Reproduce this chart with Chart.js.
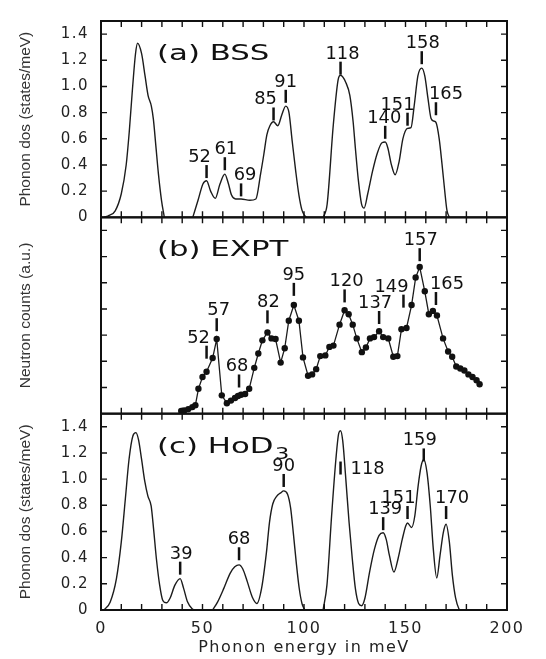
<!DOCTYPE html>
<html>
<head>
<meta charset="utf-8">
<script src="https://cdn.jsdelivr.net/npm/chart.js@4.4.1/dist/chart.umd.min.js"></script>
<style>
  html, body { margin: 0; padding: 0; background: #fff; }
  canvas { display: block; }
</style>
</head>
<body>
<canvas id="phononChart" width="546" height="659"></canvas>
<script>
// (a) BSS phonon density of states, states/meV (null = gap between bands)
const bssEnergy = [
  1.6, 4, 7, 10, 12.4, 13.9, 15.5, 17, 18, 20,
  21.7, 23.2, 24.8, 25.8, 27, 28.3, 29.8, 31.2, 38, 45.2,
  47.8, 50.2, 52, 54, 56.3, 58.6, 61, 62.7, 64.3, 66.3,
  69, 73.3, 76.3, 78.6, 80.2, 81.7, 83.2, 85, 87.1, 89,
  91, 92.6, 94.2, 95.9, 97.5, 99, 100.5, 101.2, 105, 109.5,
  111.4, 114.4, 116.8, 118, 120.6, 122.6, 124.2, 125.3, 126.8, 128.3,
  129.6, 131.4, 133.8, 136.1, 138.4, 140, 141.3, 143, 144.9, 146.9,
  148.7, 151, 152.7, 154.3, 156.1, 158, 159.5, 161.1, 162.6, 164,
  165, 166.6, 168, 169.3, 170.4, 171.6
];
const bssDos = [
  0, 0.015, 0.05, 0.18, 0.4, 0.65, 0.98, 1.25, 1.33, 1.25,
  1.08, 0.93, 0.85, 0.75, 0.55, 0.33, 0.13, 0, null, 0,
  0.13, 0.255, 0.28, 0.2, 0.145, 0.255, 0.33, 0.26, 0.17, 0.14,
  0.14, 0.13, 0.14, 0.33, 0.48, 0.63, 0.70, 0.73, 0.70, 0.78,
  0.85, 0.8, 0.58, 0.355, 0.17, 0.055, 0.01, 0, null, 0,
  0.1, 0.7, 1.05, 1.085, 1.03, 0.93, 0.73, 0.53, 0.28, 0.105,
  0.07, 0.18, 0.355, 0.49, 0.57, 0.575, 0.53, 0.405, 0.325, 0.43,
  0.6, 0.68, 0.685, 0.855, 1.08, 1.14, 1.08, 0.905, 0.755, 0.735,
  0.725, 0.6, 0.405, 0.205, 0.055, 0
];
const bssPeaks = [52, 61, 69, 85, 91, 118, 140, 151, 158, 165];

// (b) measured neutron counts, arbitrary units
const exptEnergy = [
  39.5, 41, 43, 45, 46.5, 48, 50, 52, 55, 57,
  59.5, 62, 64, 66, 67.5, 69, 71, 73, 75.5, 77.5,
  79.5, 82, 84, 86, 88.5, 90.5, 92.5, 95, 97.5, 99.5,
  102, 104, 106, 108, 110.5, 112.5, 114.5, 117.5, 120, 122,
  124, 126, 128.5, 130.5, 132.5, 134.5, 137, 139, 141.5, 144,
  146, 148, 150.5, 153, 155, 157, 159.5, 161.5, 163.5, 165.5,
  168.5, 171, 173, 175, 177, 179, 181, 183, 185, 186.5
];
const exptCounts = [
  0.02, 0.025, 0.035, 0.05, 0.065, 0.19, 0.28, 0.32, 0.425, 0.57,
  0.14, 0.08, 0.10, 0.12, 0.135, 0.145, 0.15, 0.19, 0.35, 0.46,
  0.56, 0.62, 0.575, 0.57, 0.39, 0.50, 0.71, 0.83, 0.71, 0.43,
  0.29, 0.30, 0.34, 0.44, 0.445, 0.51, 0.52, 0.68, 0.79, 0.76,
  0.68, 0.575, 0.47, 0.505, 0.575, 0.585, 0.63, 0.585, 0.575, 0.435,
  0.44, 0.645, 0.655, 0.83, 1.04, 1.12, 0.935, 0.76, 0.785, 0.75,
  0.575, 0.475, 0.435, 0.36, 0.345, 0.33, 0.30, 0.28, 0.255, 0.225
];
const exptPeaks = [52, 57, 68, 82, 95, 120, 137, 149, 157, 165];

// (c) HoD3 phonon density of states, states/meV
const hodEnergy = [
  1.4, 4.5, 7.6, 10, 12, 13.8, 15.7, 17.2, 18.5, 20,
  21.6, 23.1, 24.7, 25.9, 27.3, 28.9, 30.4, 32.2, 34, 36.4,
  39, 40.7, 42.6, 44.9, 46, 50, 55, 57.4, 60.5, 63.6,
  65.9, 68, 69.8, 72.1, 74.5, 76.8, 79.1, 81.5, 83, 84.6,
  86.6, 88.5, 90, 91.9, 93.4, 94.8, 96.2, 97.6, 99, 100.4,
  105, 109.4, 111.3, 113.6, 115.7, 117.1, 118, 119.1, 120.6, 122.2,
  123.8, 125.3, 126.9, 128.4, 130, 132.3, 134.7, 137, 139, 140.5,
  142.1, 144.3, 146.3, 148.4, 150.2, 151, 153, 154.6, 156.2, 157.7,
  159, 160.6, 162.2, 163.7, 165.4, 167, 168.6, 170, 171.6, 173.1,
  174.7, 176.3, 177
];
const hodDos = [
  0, 0.06, 0.24, 0.52, 0.85, 1.15, 1.33, 1.355, 1.3, 1.15,
  0.98, 0.87, 0.795, 0.62, 0.39, 0.19, 0.075, 0.055, 0.09, 0.19,
  0.24, 0.165, 0.063, 0.01, 0, null, 0, 0.06, 0.165, 0.28,
  0.33, 0.345, 0.315, 0.215, 0.1, 0.05, 0.165, 0.44, 0.67, 0.81,
  0.87, 0.895, 0.91, 0.885, 0.78, 0.58, 0.36, 0.17, 0.05, 0,
  null, 0, 0.19, 0.72, 1.15, 1.35, 1.37, 1.29, 1.0, 0.67,
  0.39, 0.165, 0.05, 0.033, 0.09, 0.29, 0.465, 0.57, 0.59, 0.54,
  0.415, 0.29, 0.39, 0.54, 0.645, 0.665, 0.63, 0.72, 0.945, 1.1,
  1.15, 1.05, 0.795, 0.465, 0.245, 0.415, 0.59, 0.655, 0.52, 0.265,
  0.09, 0.01, 0
];
const hodPeaks = [39, 68, 90, 118, 139, 151, 159, 170];

const energyTicks = [0, 50, 100, 150, 200];
const dosTicks = [0, 0.2, 0.4, 0.6, 0.8, 1.0, 1.2, 1.4];

const toPoints = (xs, ys) => xs.map((x, i) => ({ x: x, y: ys[i] }));

// where each peak tag sits: bottom of the tick mark (axis units) and text shift (px)
const tagLayout = {
  yA: {
    level: [0.30, 0.36, 0.16, 0.74, 0.875, 1.09, 0.60, 0.70, 1.17, 0.78],
    dx: [-7, 1, 4, -8, 0, 2, -1, -10, 1, 10]
  },
  yB: {
    level: [0.42, 0.63, 0.20, 0.69, 0.90, 0.85, 0.685, 0.81, 1.165, 0.83],
    dx: [-8, 2, -2, 1, 0, 2, -4, -12, 1, 11]
  },
  yC: {
    level: [0.27, 0.38, 0.94, 1.035, 0.61, 0.695, 1.135, 0.695],
    dx: [1, 0, 0, 'right', 2, -9, -4, 6]
  }
};

const panels = [
  { axis: 'yA', title: '(a) BSS', yTitle: 'Phonon dos (states/meV)', peaks: bssPeaks },
  { axis: 'yB', title: '(b) EXPT', yTitle: 'Neutron counts (a.u.)', peaks: exptPeaks },
  { axis: 'yC', title: '(c) HoD', sub: '3', yTitle: 'Phonon dos (states/meV)', peaks: hodPeaks }
];

// frames, inward ticks, panel names and peak tags
const panelDecor = {
  id: 'panelDecor',
  beforeDraw(chart) {
    chart.ctx.letterSpacing = '1.5px';
  },
  afterDatasetsDraw(chart) {
    const { ctx, chartArea, scales } = chart;
    const xs = scales.x;
    ctx.save();
    ctx.letterSpacing = '0px';
    ctx.strokeStyle = '#111';
    ctx.fillStyle = '#111';

    panels.forEach(p => {
      const ys = scales[p.axis];
      const top = ys.top, bottom = ys.bottom;

      ctx.lineWidth = 1.4;
      ctx.beginPath();
      for (let e = 10; e < 200; e += 10) {
        const px = xs.getPixelForValue(e);
        ctx.moveTo(px, top); ctx.lineTo(px, top + 6);
        ctx.moveTo(px, bottom); ctx.lineTo(px, bottom - 6);
      }
      ys.ticks.forEach(t => {
        if (t.value <= 0 || t.value > 1.45) return;
        const py = ys.getPixelForValue(t.value);
        ctx.moveTo(chartArea.left, py); ctx.lineTo(chartArea.left + 6, py);
        ctx.moveTo(chartArea.right, py); ctx.lineTo(chartArea.right - 6, py);
      });
      ctx.stroke();

      ctx.lineWidth = 2;
      ctx.strokeRect(chartArea.left, top, chartArea.right - chartArea.left, bottom - top);

      // panel name, drawn slightly widened
      ctx.save();
      ctx.translate(chartArea.left + 56, top + 39);
      ctx.scale(1.4, 1);
      ctx.font = '22px "DejaVu Sans"';
      ctx.textAlign = 'left';
      ctx.textBaseline = 'alphabetic';
      ctx.fillText(p.title, 0, 0);
      if (p.sub) {
        const w = ctx.measureText(p.title).width;
        ctx.font = '16px "DejaVu Sans"';
        ctx.fillText(p.sub, w + 1, 6);
      }
      ctx.restore();

      // vertical axis title
      ctx.save();
      ctx.translate(26, (top + bottom) / 2);
      ctx.rotate(-Math.PI / 2);
      ctx.font = '15.5px "Liberation Sans"';
      ctx.fillStyle = '#333';
      ctx.textAlign = 'center';
      ctx.textBaseline = 'middle';
      ctx.fillText(p.yTitle, 0, 0);
      ctx.restore();

      // peak tags
      const lay = tagLayout[p.axis];
      p.peaks.forEach((e, i) => {
        const px = xs.getPixelForValue(e);
        const yb = ys.getPixelForValue(lay.level[i]);
        const yt = yb - 13;
        ctx.lineWidth = 2.5;
        ctx.beginPath();
        ctx.moveTo(px, yb); ctx.lineTo(px, yt);
        ctx.stroke();
        ctx.save();
        ctx.font = '17px "DejaVu Sans"';
        ctx.textBaseline = 'alphabetic';
        if (lay.dx[i] === 'right') {
          ctx.translate(px + 10, (yb + yt) / 2 + 6);
          ctx.scale(1.05, 1);
          ctx.textAlign = 'left';
        } else {
          ctx.translate(px + lay.dx[i], yt - 3);
          ctx.scale(1.05, 1);
          ctx.textAlign = 'center';
        }
        ctx.fillText(String(e), 0, 0);
        ctx.restore();
      });
    });
    ctx.restore();
  }
};

const curveStyle = {
  borderColor: '#1c1c1c',
  borderWidth: 1.4,
  pointRadius: 0,
  cubicInterpolationMode: 'monotone',
  spanGaps: false,
  fill: false
};

const dosAxis = (hideLabels) => ({
  type: 'linear',
  position: 'left',
  stack: 'panels',
  stackWeight: 1,
  min: 0,
  max: 1.5,
  afterBuildTicks: s => { s.ticks = dosTicks.map(v => ({ value: v })); },
  afterFit: s => { s.width = 101; },
  grid: { display: false, drawTicks: false },
  border: { display: false },
  ticks: {
    autoSkip: false,
    padding: 12,
    color: '#222',
    font: { family: 'DejaVu Sans', size: 15 },
    callback: v => hideLabels ? '' : (v === 0 ? '0' : v.toFixed(1))
  }
});

new Chart(document.getElementById('phononChart'), {
  type: 'line',
  data: {
    datasets: [
      Object.assign({ label: 'BSS', data: toPoints(bssEnergy, bssDos), yAxisID: 'yA' }, curveStyle),
      {
        label: 'EXPT',
        data: toPoints(exptEnergy, exptCounts),
        yAxisID: 'yB',
        borderColor: '#1c1c1c',
        borderWidth: 1.3,
        pointRadius: 3.2,
        pointBackgroundColor: '#111',
        pointBorderWidth: 0,
        tension: 0,
        fill: false
      },
      Object.assign({ label: 'HoD3', data: toPoints(hodEnergy, hodDos), yAxisID: 'yC' }, curveStyle)
    ]
  },
  options: {
    responsive: false,
    animation: false,
    layout: { padding: { top: 9, right: 39, left: 0, bottom: 0 } },
    plugins: { legend: { display: false }, tooltip: { enabled: false } },
    scales: {
      x: {
        type: 'linear',
        min: 0,
        max: 200,
        afterBuildTicks: s => { s.ticks = energyTicks.map(v => ({ value: v })); },
        afterFit: s => { s.height = 49; },
        grid: { display: false, drawTicks: false },
        border: { display: false },
        ticks: { padding: 9, color: '#222', font: { family: 'DejaVu Sans', size: 16 } },
        title: {
          display: true,
          text: 'Phonon energy in meV',
          color: '#222',
          font: { family: 'DejaVu Sans', size: 16 },
          padding: { top: 0, bottom: 2 }
        }
      },
      // stacked panels are laid out bottom first
      yC: dosAxis(false),
      yB: dosAxis(true),
      yA: dosAxis(false)
    }
  },
  plugins: [panelDecor]
});
</script>
</body>
</html>
